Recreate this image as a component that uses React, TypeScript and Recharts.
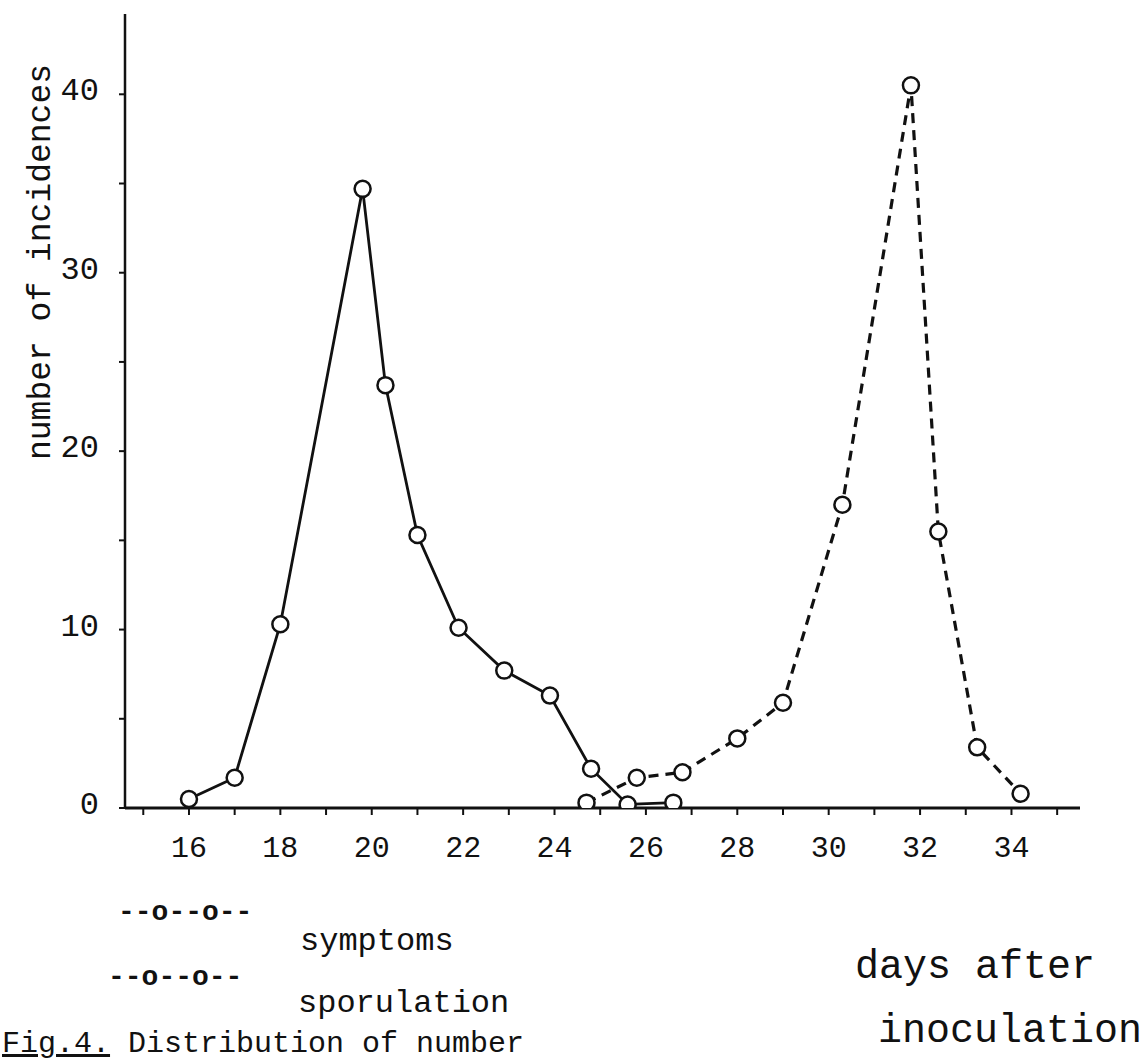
import { LineChart, Line, XAxis, YAxis } from "recharts";

// days after inoculation
const symptomDays = [16, 17, 18, 19.8, 20.3, 21, 21.9, 22.9, 23.9, 24.8, 25.6, 26.6];
const symptomCounts = [0.5, 1.7, 10.3, 34.7, 23.7, 15.3, 10.1, 7.7, 6.3, 2.2, 0.2, 0.3];

const sporulationDays = [24.7, 25.8, 26.8, 28, 29, 30.3, 31.8, 32.4, 33.25, 34.2];
const sporulationCounts = [0.3, 1.7, 2.0, 3.9, 5.9, 17.0, 40.5, 15.5, 3.4, 0.8];

const dayTicks = [15, 16, 17, 18, 19, 20, 21, 22, 23, 24, 25, 26, 27, 28, 29, 30, 31, 32, 33, 34, 35];
const countTicks = [0, 5, 10, 15, 20, 25, 30, 35, 40];

const symptoms = symptomDays.map((day, i) => ({ day, count: symptomCounts[i] }));
const sporulation = sporulationDays.map((day, i) => ({ day, count: sporulationCounts[i] }));

const mono = '"Liberation Mono", "DejaVu Sans Mono", monospace';
const ink = "#111";

const DayTick = ({ x, y, payload }: any) => {
  if (payload.value % 2 !== 0) return <g />;
  return (
    <text x={x} y={y + 40} textAnchor="middle" fontFamily={mono} fontSize={30} fill={ink}>
      {payload.value}
    </text>
  );
};

const CountTick = ({ x, y, payload }: any) => {
  if (payload.value % 10 !== 0) return <g />;
  return (
    <text x={x - 18} y={y + 6} textAnchor="end" fontFamily={mono} fontSize={32} fill={ink}>
      {payload.value}
    </text>
  );
};

const dot = { r: 8, fill: "#fff", stroke: ink, strokeWidth: 2.5, strokeDasharray: "0" };

export default function App() {
  return (
    <div style={{ position: "absolute", left: 0, top: 0, width: 1146, height: 1063, overflow: "hidden", background: "#fff" }}>
      <LineChart width={1146} height={1063} margin={{ top: 14, right: 66, bottom: 205, left: 65 }}>
        <XAxis
          type="number"
          dataKey="day"
          domain={[14.6, 35.5]}
          ticks={dayTicks}
          tick={<DayTick />}
          tickSize={7}
          height={50}
          axisLine={{ stroke: ink, strokeWidth: 3 }}
          tickLine={{ stroke: ink, strokeWidth: 2 }}
          allowDataOverflow
        />
        <YAxis
          type="number"
          dataKey="count"
          domain={[0, 44.5]}
          ticks={countTicks}
          tick={<CountTick />}
          tickSize={6}
          width={60}
          axisLine={{ stroke: ink, strokeWidth: 2.5 }}
          tickLine={{ stroke: ink, strokeWidth: 2 }}
          allowDataOverflow
        />
        <Line
          data={symptoms}
          dataKey="count"
          type="linear"
          stroke={ink}
          strokeWidth={2.8}
          dot={dot}
          activeDot={false}
          isAnimationActive={false}
        />
        <Line
          data={sporulation}
          dataKey="count"
          type="linear"
          stroke={ink}
          strokeWidth={3.2}
          strokeDasharray="10 7"
          dot={dot}
          activeDot={false}
          isAnimationActive={false}
        />
      </LineChart>
      <svg
        width={1146}
        height={1063}
        style={{ position: "absolute", left: 0, top: 0, pointerEvents: "none" }}
        fontFamily={mono}
        fill={ink}
      >
        <text transform="translate(50,262) rotate(-90)" textAnchor="middle" fontSize={33}>
          number of incidences
        </text>
        <text x={118} y={920} fontSize={28} fontWeight="bold">--o--o--</text>
        <text x={300} y={950} fontSize={32}>symptoms</text>
        <text x={108} y={985} fontSize={28} fontWeight="bold">--o--o--</text>
        <text x={298} y={1012} fontSize={32}>sporulation</text>
        <text x={855} y={978} fontSize={40}>days after</text>
        <text x={878} y={1042} fontSize={40}>inoculation</text>
        <text x={2} y={1052} fontSize={30}>
          <tspan textDecoration="underline">Fig.4.</tspan> Distribution of number
        </text>
      </svg>
    </div>
  );
}
